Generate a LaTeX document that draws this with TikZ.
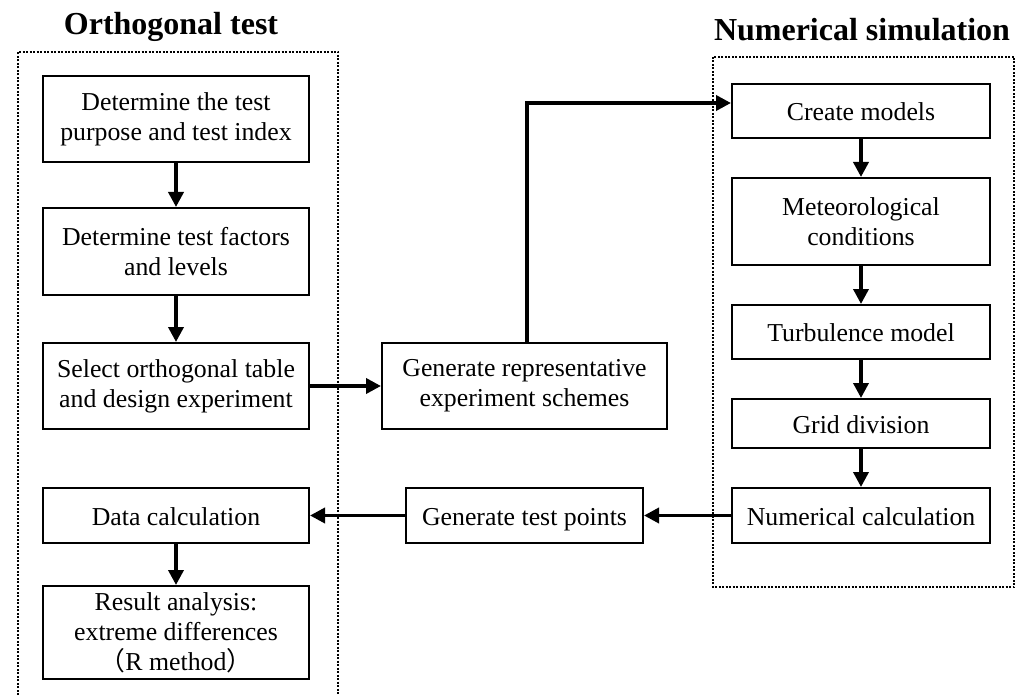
\documentclass[tikz,border=0pt]{standalone}
\usepackage{fontspec}
\setmainfont{Liberation Serif}
\newfontfamily\cjk{Noto Sans CJK SC}
\usetikzlibrary{arrows.meta}

\begin{document}
\begin{tikzpicture}[x=1pt, y=-1pt, font=\fontsize{25.8}{30}\selectfont]
    \tikzstyle{box} = [rectangle, draw=black, line width=2pt, inner sep=0pt, align=center, text centered]
    \tikzstyle{oneline} = [text height=19pt, text depth=0pt]
    \tikzstyle{arrow} = [line width=3.6pt, -{Triangle[length=15pt, width=15pt]}]
    \tikzstyle{frame} = [line width=2.2pt, dash pattern=on 2pt off 1.5pt]
    \tikzstyle{title} = [font=\fontsize{32}{36}\selectfont\bfseries, anchor=base]
    \useasboundingbox (0,0) rectangle (1023,695);
    % dotted frames and titles
    \draw[frame] (18,695) -- (18,52) -- (338,52) -- (338,695);
    \draw[frame] (713,57) rectangle (1014,587);
    \node[title] (OT) at (171,35) {Orthogonal test};
    \node[title] (NS) at (862,41) {Numerical simulation};
    % orthogonal test column
    \node[box, minimum width=266pt, minimum height=86pt] (PUR) at (176,119) {Determine the test\\purpose and test index};
    \node[box, minimum width=266pt, minimum height=87pt] (FAC) at (176,251.5) {Determine test factors\\and levels};
    \node[box, minimum width=266pt, minimum height=86pt] (TAB) at (176,386) {Select orthogonal table\\and design experiment};
    \node[box, oneline, minimum width=266pt, minimum height=55pt] (DAT) at (176,515.5) {Data calculation};
    \node[box, minimum width=266pt, minimum height=93pt] (RES) at (176,632.5) {Result analysis:\\extreme differences\\{\cjk （}R method{\cjk ）}};
    % middle
    \node[box, minimum width=285pt, minimum height=86pt] (SCH) at (524.5,386) {Generate representative\\experiment schemes};
    \node[box, oneline, minimum width=237pt, minimum height=55pt] (PTS) at (524.5,515.5) {Generate test points};
    % numerical simulation column
    \node[box, oneline, minimum width=258pt, minimum height=54pt] (MOD) at (861,111) {Create models};
    \node[box, minimum width=258pt, minimum height=87pt] (MET) at (861,221.5) {Meteorological\\conditions};
    \node[box, oneline, minimum width=258pt, minimum height=54pt] (TUR) at (861,332) {Turbulence model};
    \node[box, oneline, minimum width=258pt, minimum height=49pt] (GRI) at (861,423.5) {Grid division};
    \node[box, oneline, minimum width=258pt, minimum height=55pt] (NUM) at (861,515.5) {Numerical calculation};
    % connectors
    \draw[arrow] (PUR)--(FAC);
    \draw[arrow] (FAC)--(TAB);
    \draw[arrow] (TAB)--(SCH);
    \draw[arrow] ([xshift=2.5pt]SCH.north) |- ([yshift=8pt]MOD.west);
    \draw[arrow] (MOD)--(MET);
    \draw[arrow] (MET)--(TUR);
    \draw[arrow] (TUR)--(GRI);
    \draw[arrow] (GRI)--(NUM);
    \draw[arrow] (NUM)--(PTS);
    \draw[arrow] (PTS)--(DAT);
    \draw[arrow] (DAT)--(RES);
\end{tikzpicture}
\end{document}
